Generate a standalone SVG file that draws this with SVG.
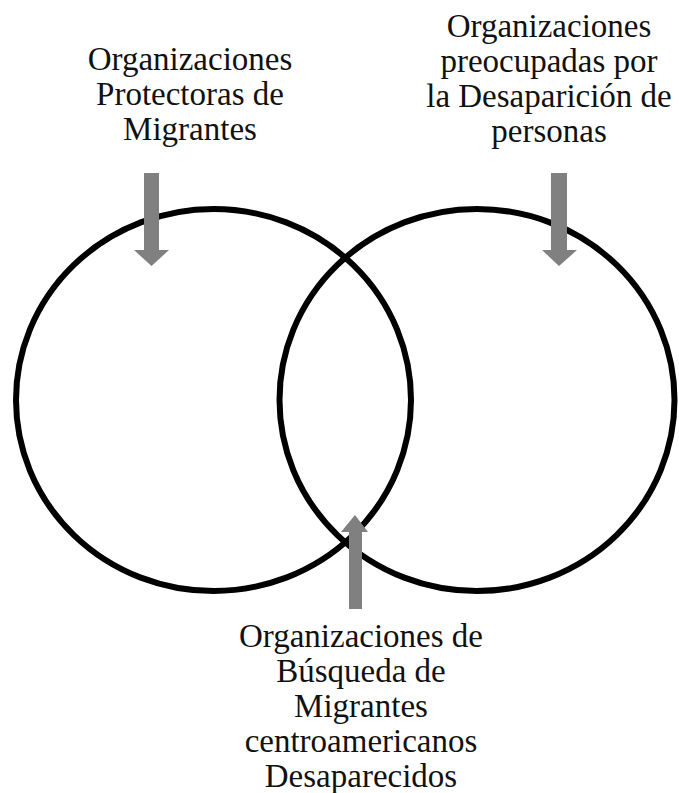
<svg xmlns="http://www.w3.org/2000/svg" width="679" height="793" viewBox="0 0 679 793">
<style>
.ring{fill:none;stroke:#000;stroke-width:6}
.arrow{fill:#808080}
text{font-family:"Liberation Serif","Times New Roman",serif;font-size:33px;fill:#111;text-anchor:middle}
</style>
<rect width="679" height="793" fill="#fff"/>
<g id="circle-left"><ellipse class="ring" cx="213.5" cy="400" rx="197.5" ry="191"/></g>
<g id="circle-right"><ellipse class="ring" cx="477" cy="400" rx="197.5" ry="191"/></g>
<g id="connectors">
<polygon class="arrow" points="144,173 159,173 159,250 169,250 151.5,266 134,250 144,250"/>
<polygon class="arrow" points="551,173 567,173 567,250 577,250 559,266 542,250 551,250"/>
<polygon class="arrow" points="349,609 362,609 362,532 368,532 355,515 341,532 349,532"/>
</g>
<g id="label-left">
<text x="190" y="70">Organizaciones</text>
<text x="190" y="105">Protectoras de</text>
<text x="190" y="140">Migrantes</text>
</g>
<g id="label-right">
<text x="549" y="37">Organizaciones</text>
<text x="549" y="72">preocupadas por</text>
<text x="549" y="107">la Desaparición de</text>
<text x="549" y="142">personas</text>
</g>
<g id="label-bottom">
<text x="361" y="647">Organizaciones de</text>
<text x="361" y="682">Búsqueda de</text>
<text x="361" y="717">Migrantes</text>
<text x="361" y="752">centroamericanos</text>
<text x="361" y="787">Desaparecidos</text>
</g>
</svg>
